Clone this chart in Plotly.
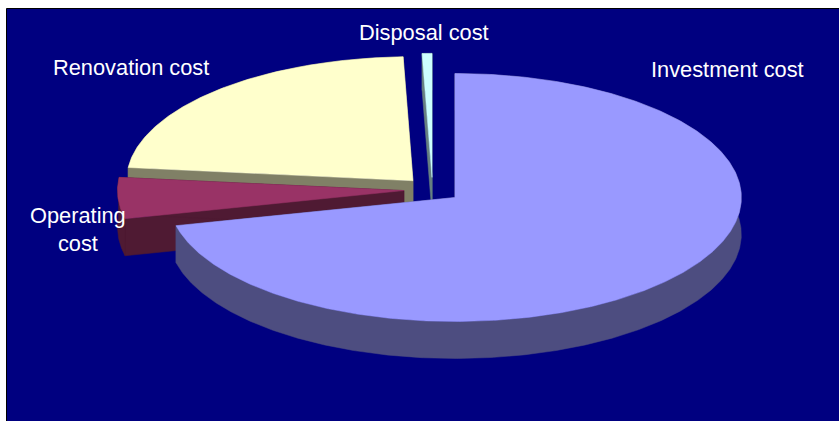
import math
import plotly.graph_objects as go

# Data (percent of total cost, clockwise from 12 o'clock)
categories = ["Investment cost", "Operating cost", "Renovation cost", "Disposal cost"]
values = [71.35, 5.35, 22.75, 0.55]

# Styles
top_colors = ["#9999FF", "#993366", "#FFFFCC", "#CCFFFF"]
wall_colors = ["#4D4D80", "#4F1A33", "#808066", "#668080"]
draw_order = ["Disposal cost", "Renovation cost", "Operating cost", "Investment cost"]
label_text = {
    "Investment cost": "Investment cost",
    "Operating cost": "Operating<br>cost",
    "Renovation cost": "Renovation cost",
    "Disposal cost": "Disposal cost",
}
label_pos = {
    "Investment cost": (727.5, 69),
    "Operating cost": (77.5, 229),
    "Renovation cost": (131, 67),
    "Disposal cost": (424, 32),
}

# Projection of the tilted pie
W, H = 839, 421
CX, CY = 432.5, 189.8
RX, RY = 286.4, 124.0
DEPTH = 37.0
PULL = 0.1


def project(angle_deg, radius=1.0):
    a = math.radians(angle_deg)
    return radius * RX * math.sin(a), -radius * RY * math.cos(a)


def add_poly(fig, pts, color):
    xs = [p[0] for p in pts] + [pts[0][0]]
    ys = [p[1] for p in pts] + [pts[0][1]]
    fig.add_trace(go.Scatter(x=xs, y=ys, mode="lines", fill="toself", fillcolor=color,
                             line=dict(color=color, width=0.5), hoverinfo="skip",
                             showlegend=False))


total = sum(values)
start = 0.0
slices = {}
for name, v, tc, wc in zip(categories, values, top_colors, wall_colors):
    sweep = 360.0 * v / total
    slices[name] = (start, start + sweep, tc, wc)
    start += sweep

fig = go.Figure()
for name in draw_order:
    a0, a1, tc, wc = slices[name]
    mid = (a0 + a1) / 2
    dx, dy = project(mid, PULL)
    ox, oy = CX + dx, CY + dy
    n = max(3, int((a1 - a0) * 2))
    arc = [project(a0 + (a1 - a0) * i / n) for i in range(n + 1)]
    arc = [(ox + x, oy + y) for x, y in arc]
    apex = (ox, oy)
    down = lambda p: (p[0], p[1] + DEPTH)
    # radial faces, rim wall, then top surface
    add_poly(fig, [apex, arc[0], down(arc[0]), down(apex)], wc)
    add_poly(fig, [apex, arc[-1], down(arc[-1]), down(apex)], wc)
    add_poly(fig, arc + [down(p) for p in reversed(arc)], wc)
    add_poly(fig, [apex] + arc, tc)

annotations = [
    dict(x=label_pos[c][0], y=label_pos[c][1], text=label_text[c], showarrow=False,
         xanchor="center", yanchor="middle", align="center",
         font=dict(family="Liberation Sans", size=21.8, color="white"))
    for c in categories
]

fig.update_layout(
    width=W, height=H, margin=dict(l=0, r=0, t=0, b=0),
    paper_bgcolor="white", plot_bgcolor="white", showlegend=False,
    xaxis=dict(range=[0, W], visible=False, fixedrange=True),
    yaxis=dict(range=[H, 0], visible=False, fixedrange=True),
    shapes=[dict(type="rect", layer="below", x0=6.5, y0=8.5, x1=W + 5, y1=H + 5,
                 fillcolor="#000080", line=dict(color="black", width=1))],
    annotations=annotations,
)

fig.write_html("out.html", config={"displayModeBar": False},
               post_script="document.body.style.margin='0';document.body.style.overflow='hidden';")
